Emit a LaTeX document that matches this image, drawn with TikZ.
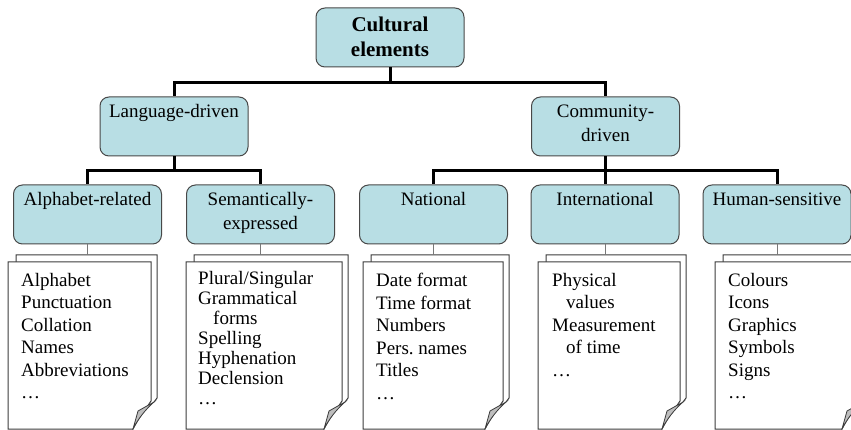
\documentclass[tikz,border=0pt]{standalone}
\usepackage{fontspec}
\setmainfont{Liberation Serif}
\usetikzlibrary{calc}
\definecolor{boxfill}{RGB}{184,222,228}
\definecolor{boxedge}{RGB}{72,72,72}
\definecolor{pageedge}{RGB}{60,60,60}
\definecolor{foldgray}{RGB}{190,190,190}
\definecolor{stub}{RGB}{120,120,120}
\newcommand{\boxtext}[2][4pt]{\parbox[c][59pt][t]{148pt}{\centering\vspace*{#1}\strut#2}}
\tikzset{
  cbox/.style={draw=boxedge,fill=boxfill,line width=1pt,rounded corners=9pt,
    inner sep=0pt,minimum width=148pt,minimum height=59pt,
    font=\fontsize{19}{24}\selectfont},
  ctree/.style={black,line width=3pt},
  cstub/.style={stub,line width=0.8pt},
  cpage/.style={draw=pageedge,fill=white,line width=1pt},
  cfold/.style={draw=pageedge,fill=foldgray,line width=0.8pt},
  clist/.style={anchor=north west,inner sep=0pt,align=left,
    font=\fontsize{19}{22.5}\selectfont},
}

\begin{document}
\begin{tikzpicture}[x=1pt,y=-1pt]
  \useasboundingbox (0,0) rectangle (851,430);
  \clip (0,0) rectangle (851,430);
  % category boxes
  \node[cbox,font=\bfseries\fontsize{21}{25}\selectfont] (cult) at (390,37.5)
    {\boxtext[6pt]{Cultural\\elements}};
  \node[cbox] (lang) at (174,126.5) {\boxtext{Language-driven}};
  \node[cbox] (comm) at (605.5,126.5) {\boxtext{Community-\\driven}};
  \node[cbox] (alpha) at (87.5,214.5) {\boxtext{Alphabet-related}};
  \node[cbox] (sem) at (260.5,214.5) {\boxtext{Semantically-\\expressed}};
  \node[cbox] (nat) at (433.5,214.5) {\boxtext{National}};
  \node[cbox] (intl) at (605,214.5) {\boxtext{International}};
  \node[cbox] (human) at (777,214.5) {\boxtext{Human-sensitive}};
  % tree
  \draw[ctree] (cult.south) -- ++(0,15) -| (lang.north);
  \draw[ctree] (cult.south) -- ++(0,15) -| (comm.north);
  \foreach \c in {alpha,sem} \draw[ctree] (lang.south) -- ++(0,14) -| (\c.north);
  \foreach \c in {nat,intl,human} \draw[ctree] (comm.south) -- ++(0,14) -| (\c.north);
  % pages
  \foreach \c/\l/\r in {alpha/8/151,sem/186/342,nat/363/503,intl/538/680,human/715/860} {
    \draw[cpage] (\l+8,262) |- (\r+6,255) -- (\r+6,398) -- (\r+3,402);
    \draw[cpage] (\l,262) -- (\r,262) -- (\r,401)
      .. controls (\r-6,410) and (\r-13,419) .. (\r-18,429) -- (\l,429) -- cycle;
    \draw[cfold] (\r-18,429) -- (\r-13,411) -- (\r+3,402)
      .. controls (\r-6,410) and (\r-13,419) .. cycle;
    \coordinate (\c-top) at (\c.south |- 0,255);
    \draw[cstub] (\c.south) -- (\c-top);
  }
  \node[clist] (alpha-list) at (21,273)
    {Alphabet\\Punctuation\\Collation\\Names\\Abbreviations\\\dots};
  \node[clist,font=\fontsize{19}{20}\selectfont] (sem-list) at (198,271)
    {Plural/Singular\\Grammatical\\\hspace*{15pt}forms\\Spelling\\Hyphenation\\Declension\\\dots};
  \node[clist] (nat-list) at (376,273)
    {Date format\\Time format\\Numbers\\Pers.\ names\\Titles\\\dots};
  \node[clist] (intl-list) at (552,273)
    {Physical\\\hspace*{14pt}values\\Measurement\\\hspace*{14pt}of time\\\dots};
  \node[clist] (human-list) at (728,273)
    {Colours\\Icons\\Graphics\\Symbols\\Signs\\\dots};
\end{tikzpicture}
\end{document}
